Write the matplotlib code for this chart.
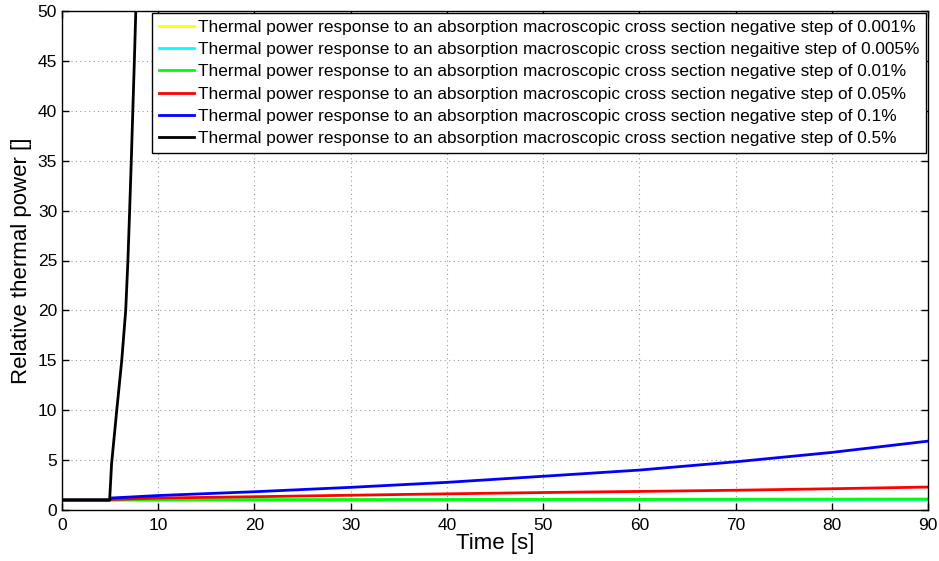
import matplotlib
matplotlib.use("Agg")
import matplotlib.pyplot as plt

plt.rcParams['font.family'] = ['Liberation Sans', 'DejaVu Sans']

# Time samples [s] shared by the slow responses
t_slow = [0, 4.95, 5.1, 10, 20, 30, 40, 50, 60, 70, 80, 90]

# Relative thermal power for each negative step of the absorption cross section
p_0001 = [1, 1, 1.0, 1.005, 1.006, 1.007, 1.008, 1.009, 1.01, 1.011, 1.012, 1.013]
p_0005 = [1, 1, 1.005, 1.01, 1.015, 1.02, 1.025, 1.03, 1.035, 1.04, 1.045, 1.05]
p_001 = [1, 1, 1.01, 1.02, 1.03, 1.04, 1.05, 1.06, 1.07, 1.08, 1.09, 1.1]
p_005 = [1, 1, 1.05, 1.2, 1.33, 1.48, 1.62, 1.75, 1.86, 1.98, 2.13, 2.3]
p_01 = [1, 1, 1.2, 1.45, 1.83, 2.27, 2.77, 3.38, 4.0, 4.83, 5.77, 6.9]

# Fast response to the 0.5% step
t_fast = [0, 4.95, 5.15, 5.69, 6.21, 6.62, 6.85, 7.03, 7.2, 7.36, 7.52, 7.67, 7.9]
p_05 = [1, 1, 4.6, 10, 15, 20, 25, 30, 35, 40, 45, 50, 62]

labels = [
    'Thermal power response to an absorption macroscopic cross section negative step of 0.001%',
    'Thermal power response to an absorption macroscopic cross section negaitive step of 0.005%',
    'Thermal power response to an absorption macroscopic cross section negative step of 0.01%',
    'Thermal power response to an absorption macroscopic cross section negative step of 0.05%',
    'Thermal power response to an absorption macroscopic cross section negative step of 0.1%',
    'Thermal power response to an absorption macroscopic cross section negative step of 0.5%',
]
colors = ['#ffff00', '#00ffff', '#00ff00', '#ff0000', '#0000ff', '#000000']

x_ticks = list(range(0, 91, 10))
y_ticks = list(range(0, 51, 5))

fig = plt.figure(figsize=(9.39, 5.61), dpi=100)
ax = fig.add_axes([62 / 939, 51 / 561, 866 / 939, 499 / 561])

series = [(t_slow, p_0001), (t_slow, p_0005), (t_slow, p_001),
          (t_slow, p_005), (t_slow, p_01), (t_fast, p_05)]
for (tt, pp), c, lab in zip(series, colors, labels):
    ax.plot(tt, pp, color=c, lw=2.0, label=lab)

ax.set_xlim(0, 90)
ax.set_ylim(0, 50)
ax.set_xticks(x_ticks)
ax.set_yticks(y_ticks)
ax.tick_params(direction='in', top=True, right=True, labelsize=12.5,
               length=5, width=1.0)
ax.tick_params(axis='x', pad=6)
ax.grid(True, color='#999999', linestyle=(0, (1, 3)), lw=0.8)
for sp in ax.spines.values():
    sp.set_linewidth(1.0)

ax.set_xlabel('Time [s]', fontsize=16, labelpad=0)
ax.set_ylabel('Relative thermal power []', fontsize=16, labelpad=4)

leg = ax.legend(loc='upper right', fontsize=12.4, frameon=True, fancybox=False,
                edgecolor='black', framealpha=1, handlelength=2.0,
                borderaxespad=0.1, labelspacing=0.42, borderpad=0.4,
                handletextpad=0.25)
leg.get_frame().set_linewidth(1.0)

fig.savefig('out.png', dpi=100)
